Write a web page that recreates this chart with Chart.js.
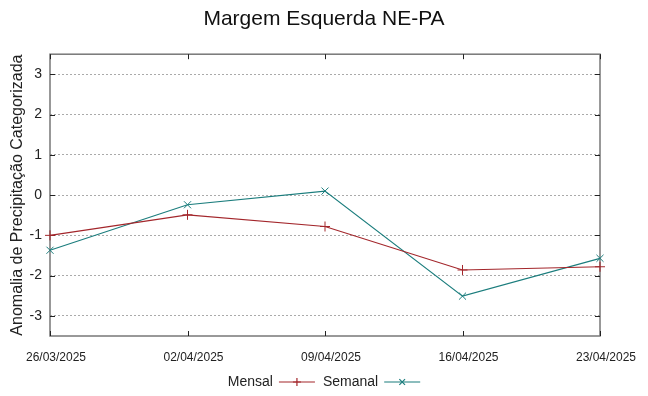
<!DOCTYPE html>
<html>
<head>
<meta charset="utf-8">
<script src="https://cdn.jsdelivr.net/npm/chart.js@4"></script>
<style>
  html, body { margin: 0; padding: 0; background: #fff; }
  #wrap { width: 648px; height: 396px; }
</style>
</head>
<body>
<div id="wrap"><canvas id="chart"></canvas></div>
<script>
const dates = ['26/03/2025', '02/04/2025', '09/04/2025', '16/04/2025', '23/04/2025'];
const mensal = [-1.0, -0.49, -0.78, -1.86, -1.78];
const semanal = [-1.37, -0.24, 0.1, -2.51, -1.57];
const yTicks = [-3, -2, -1, 0, 1, 2, 3];

const RED = '#a3262b';
const TEAL = '#1b7d7d';
const FONT = "'Liberation Sans', Arial, sans-serif";

// gnuplot-style frame with inward ticks
const framePlugin = {
  id: 'frame',
  beforeDatasetsDraw(chart) {
    const { ctx, chartArea: a, scales } = chart;
    ctx.save();
    ctx.strokeStyle = '#777';
    ctx.lineWidth = 1.5;
    ctx.strokeRect(a.left, a.top, a.right - a.left, a.bottom - a.top);
    ctx.strokeStyle = '#222';
    ctx.lineWidth = 1;
    ctx.beginPath();
    for (const v of yTicks) {
      const y = Math.round(scales.y.getPixelForValue(v)) + 0.5;
      ctx.moveTo(a.left, y); ctx.lineTo(a.left + 5, y);
      ctx.moveTo(a.right, y); ctx.lineTo(a.right - 5, y);
    }
    dates.forEach((d, i) => {
      const x = Math.round(scales.x.getPixelForValue(i)) + 0.5;
      ctx.moveTo(x, a.top); ctx.lineTo(x, a.top + 5);
      ctx.moveTo(x, a.bottom); ctx.lineTo(x, a.bottom - 5);
    });
    ctx.stroke();
    ctx.restore();
  }
};

// legend: text, then line sample with marker
const legendPlugin = {
  id: 'gpLegend',
  afterDraw(chart) {
    const { ctx } = chart;
    ctx.save();
    ctx.font = '14px ' + FONT;
    ctx.textBaseline = 'middle';
    const items = chart.data.datasets.map(ds => ({ ds, w: ctx.measureText(ds.label).width }));
    const lineW = 36, gapT = 6, gapI = 8;
    const total = items.reduce((s, it) => s + it.w + gapT + lineW, 0) + gapI * (items.length - 1);
    let x = chart.width / 2 - total / 2;
    const y = 382;
    for (const it of items) {
      ctx.fillStyle = '#222';
      ctx.fillText(it.ds.label, x, y);
      x += it.w + gapT;
      ctx.strokeStyle = it.ds.borderColor;
      ctx.lineWidth = 1.2;
      ctx.beginPath();
      ctx.moveTo(x, y); ctx.lineTo(x + lineW, y);
      ctx.stroke();
      Chart.helpers.drawPoint(ctx, {
        pointStyle: it.ds.pointStyle, radius: 4, borderWidth: 1, rotation: 0
      }, x + lineW / 2, y);
      x += lineW + gapI;
    }
    ctx.restore();
  }
};

new Chart(document.getElementById('chart'), {
  type: 'line',
  data: {
    labels: dates,
    datasets: [
      {
        label: 'Mensal', data: mensal,
        borderColor: RED, backgroundColor: RED, borderWidth: 1.2,
        pointStyle: 'cross', pointRadius: 5, pointBorderWidth: 1, pointBorderColor: RED,
        tension: 0, clip: false
      },
      {
        label: 'Semanal', data: semanal,
        borderColor: TEAL, backgroundColor: TEAL, borderWidth: 1.2,
        pointStyle: 'crossRot', pointRadius: 5, pointBorderWidth: 1, pointBorderColor: TEAL,
        tension: 0, clip: false
      }
    ]
  },
  options: {
    responsive: true, maintainAspectRatio: false, animation: false,
    layout: { padding: 0 },
    plugins: {
      legend: { display: false },
      tooltip: { enabled: false },
      title: {
        display: true, text: 'Margem Esquerda NE-PA', color: '#111',
        font: { family: FONT, size: 21, weight: 'normal' },
        padding: { top: 7, bottom: 22 }
      }
    },
    scales: {
      x: {
        type: 'category', offset: false,
        grid: { display: false, drawTicks: false },
        border: { display: false },
        ticks: {
          color: '#222', font: { family: FONT, size: 12 }, padding: 14,
          labelOffset: 6, maxRotation: 0, autoSkip: false
        },
        afterFit: s => { s.height = 60; }
      },
      y: {
        min: -3.5, max: 3.5,
        afterBuildTicks: s => { s.ticks = yTicks.map(v => ({ value: v })); },
        grid: { color: '#aaaaaa', lineWidth: 1, drawTicks: false },
        border: { display: false, dash: [2, 2] },
        ticks: { color: '#222', font: { family: FONT, size: 14 }, padding: 8 },
        title: {
          display: true, text: 'Anomalia de Precipitação Categorizada', color: '#222',
          font: { family: FONT, size: 16 }, padding: { top: 8, bottom: 0 }
        },
        afterFit: s => { s.width = 50; }
      },
      // empty right-hand margin so the title stays centred on the page
      yRight: {
        position: 'right', min: -3.5, max: 3.5,
        grid: { display: false, drawTicks: false },
        border: { display: false },
        ticks: { display: false },
        afterFit: s => { s.width = 48; }
      }
    }
  },
  plugins: [framePlugin, legendPlugin]
});
</script>
</body>
</html>
